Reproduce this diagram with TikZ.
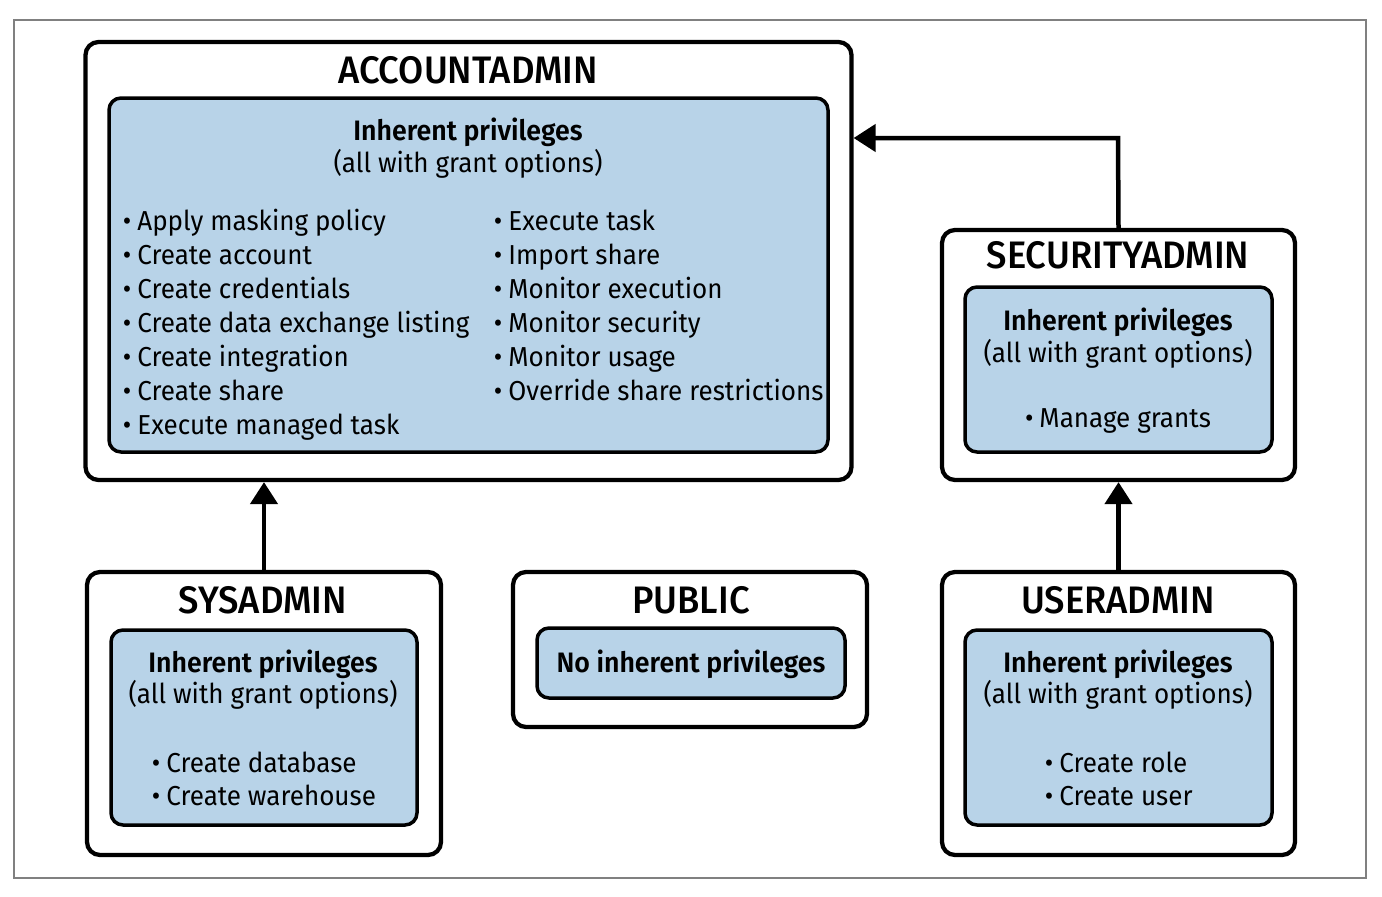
\documentclass[tikz,border=0pt]{standalone}
\usepackage{fontspec}
\setmainfont{Fira Sans}[FakeStretch=0.95]
\newfontfamily\titlefont{Fira Sans Medium}[FakeStretch=0.95]
\newfontfamily\headfont{Fira Sans SemiBold}[FakeStretch=0.95]
\usetikzlibrary{arrows.meta}
\definecolor{privblue}{HTML}{B8D3E8}
\definecolor{framegray}{HTML}{808080}
\tikzset{
  outerbox/.style={draw=black, line width=0.085cm, rounded corners=0.26cm, fill=white, inner sep=0},
  innerbox/.style={draw=black, line width=0.07cm, rounded corners=0.24cm, fill=privblue, inner sep=0},
  title/.style={inner sep=0, anchor=base, font=\titlefont\fontsize{21.8}{26}\selectfont},
  head/.style={inner sep=0, anchor=base, font=\headfont\fontsize{16}{19}\selectfont},
  sub/.style={inner sep=0, anchor=base, font=\fontsize{15.6}{19}\selectfont},
  item/.style={inner sep=0, anchor=base west, font=\fontsize{15.6}{19}\selectfont},
  arr/.style={line width=0.09cm, -{Triangle[length=0.44cm,width=0.54cm]}},
}
\newcommand{\bul}{\llap{•\hspace{0.12cm}}}
\begin{document}
\begin{tikzpicture}[x=0.02cm, y=-0.02cm]
\useasboundingbox (0,0) rectangle (1382,896);
\draw[framegray, line width=0.03cm] (14,20) rectangle (1366,878);

% ACCOUNTADMIN
\node[outerbox, minimum width=766*0.02cm, minimum height=438*0.02cm] (acc) at (468.5,261) {};
\node[innerbox, minimum width=719*0.02cm, minimum height=354*0.02cm] (accin) at (468.5,275) {};
\node[title] (acct) at (468,83) {ACCOUNTADMIN};
\node[head] (acch) at (468,140) {Inherent privileges};
\node[sub] (accs) at (468,172) {(all with grant options)};
\node[item] (a1) at (137,230) {\bul Apply masking policy};
\node[item] (a2) at (137,264) {\bul Create account};
\node[item] (a3) at (137,298) {\bul Create credentials};
\node[item] (a4) at (137,332) {\bul Create data exchange listing};
\node[item] (a5) at (137,366) {\bul Create integration};
\node[item] (a6) at (137,400) {\bul Create share};
\node[item] (a7) at (137,434) {\bul Execute managed task};
\node[item] (b1) at (508,230) {\bul Execute task};
\node[item] (b2) at (508,264) {\bul Import share};
\node[item] (b3) at (508,298) {\bul Monitor execution};
\node[item] (b4) at (508,332) {\bul Monitor security};
\node[item] (b5) at (508,366) {\bul Monitor usage};
\node[item] (b6) at (508,400) {\bul Override share restrictions};

% SECURITYADMIN
\node[outerbox, minimum width=353*0.02cm, minimum height=250*0.02cm] (sec) at (1118.5,355) {};
\node[innerbox, minimum width=307*0.02cm, minimum height=165*0.02cm] (secin) at (1118.5,369.5) {};
\node[title] (sect) at (1118,268) {SECURITYADMIN};
\node[head] (sech) at (1118,330) {Inherent privileges};
\node[sub] (secs) at (1118,362) {(all with grant options)};
\node[sub] (sec1) at (1118,427) {•\hspace{0.12cm}Manage grants};

% SYSADMIN
\node[outerbox, minimum width=354*0.02cm, minimum height=283*0.02cm] (sys) at (264,713.5) {};
\node[innerbox, minimum width=306*0.02cm, minimum height=195*0.02cm] (sysin) at (264,727.5) {};
\node[title] (syst) at (263,613) {SYSADMIN};
\node[head] (sysh) at (263,672) {Inherent privileges};
\node[sub] (syss) at (263,703) {(all with grant options)};
\node[item] (s1) at (166,772) {\bul Create database};
\node[item] (s2) at (166,805) {\bul Create warehouse};

% PUBLIC
\node[outerbox, minimum width=354*0.02cm, minimum height=155*0.02cm] (pub) at (690,649.5) {};
\node[innerbox, minimum width=308*0.02cm, minimum height=70*0.02cm] (pubin) at (691,663) {};
\node[title] (pubt) at (691,613) {PUBLIC};
\node[head] (pubh) at (691,672) {No inherent privileges};

% USERADMIN
\node[outerbox, minimum width=353*0.02cm, minimum height=283*0.02cm] (usr) at (1118.5,713.5) {};
\node[innerbox, minimum width=307*0.02cm, minimum height=195*0.02cm] (usrin) at (1118.5,727.5) {};
\node[title] (usrt) at (1118,613) {USERADMIN};
\node[head] (usrh) at (1118,672) {Inherent privileges};
\node[sub] (usrs) at (1118,703) {(all with grant options)};
\node[item] (u1) at (1059,772) {\bul Create role};
\node[item] (u2) at (1059,805) {\bul Create user};

% connectors
\coordinate (turn) at (1118,138);
\draw[arr] (sys.north) -- (acc.south -| sys.north);
\draw[arr] (usr.north) -- (sec.south);
\draw[arr] (sec.north) -- (turn) -- (acc.east |- turn);
\end{tikzpicture}
\end{document}
